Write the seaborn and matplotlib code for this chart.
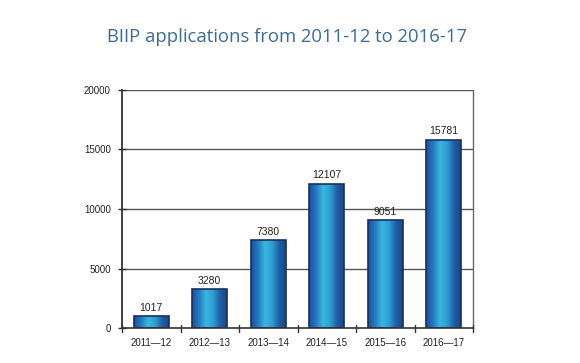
import matplotlib
matplotlib.use("Agg")
import matplotlib.pyplot as plt
import numpy as np
import pandas as pd
import seaborn as sns
from matplotlib.colors import LinearSegmentedColormap

categories = ["2011—12", "2012—13", "2013—14", "2014—15", "2015—16", "2016—17"]
applications = [1017, 3280, 7380, 12107, 9051, 15781]
yticks = [0, 5000, 10000, 15000, 20000]
title = "BIIP applications from 2011-12 to 2016-17"

sns.set_theme(style="white")
plt.rcParams['font.family'] = ['Liberation Sans', 'DejaVu Sans']

df = pd.DataFrame({"period": categories, "applications": applications})

fig = plt.figure(figsize=(5.8, 3.63), dpi=100)
ax = fig.add_axes([122/580, 1-328.4/363, 351/580, (328.4-89.6)/363])

sns.barplot(data=df, x="period", y="applications", ax=ax, color="#2a8ac8",
            width=0.59, edgecolor="#1b2f5c", linewidth=1.2, saturation=1)

cmap = LinearSegmentedColormap.from_list(
    "bar", ["#1c4f9c", "#2479bf", "#38b6df", "#2f9fd3", "#1f5fa6", "#1a4688"])
grad = np.linspace(0, 1, 256).reshape(1, -1)
for p in ax.patches:
    x0, y0 = p.get_x(), p.get_y()
    w, h = p.get_width(), p.get_height()
    im = ax.imshow(grad, cmap=cmap, aspect="auto",
                   extent=[x0, x0 + w, y0, y0 + h], zorder=p.get_zorder() + 0.1)
    im.set_clip_path(p)
    p.set_facecolor("none")
    p.set_zorder(p.get_zorder() + 0.2)
    ax.text(x0 + w / 2, y0 + h + 300, f"{int(h)}", ha="center", va="bottom",
            fontsize=7.5, color="#222222", zorder=5)

ax.set_xlim(-0.5, len(categories) - 0.5)
ax.set_ylim(0, 20000)
ax.set_yticks(yticks)
ax.set_yticklabels([str(v) for v in yticks], fontsize=7, color="#222222")
ax.set_xticks(range(len(categories)))
ax.set_xticklabels(categories, fontsize=7, color="#222222")
ax.tick_params(axis="x", length=0, pad=7)
ax.tick_params(axis="y", length=6, width=1, color="#333333", direction="inout", left=True, pad=5)
for xb in np.arange(-0.5, len(categories) + 0.5, 1):
    ax.plot([xb, xb], [250, -300], color="#333333", lw=1, clip_on=False, zorder=6)
ax.set_xlabel("")
ax.set_ylabel("")

ax.grid(False)
for v in yticks[1:]:
    ax.axhline(v, color="#555555", lw=1, zorder=0.5)

ax.spines["top"].set_visible(False)
ax.spines["left"].set_color("#333333")
ax.spines["left"].set_linewidth(1.3)
ax.spines["bottom"].set_color("#333333")
ax.spines["bottom"].set_linewidth(1.2)
ax.spines["right"].set_color("#666666")
ax.spines["right"].set_linewidth(1)

fig.text(287/580, 1-37/363, title, ha="center", va="center", fontsize=13.3,
         color="#3b6c96", family=["Open Sans", "DejaVu Sans"])

fig.savefig("out.png", dpi=100, facecolor="white")
